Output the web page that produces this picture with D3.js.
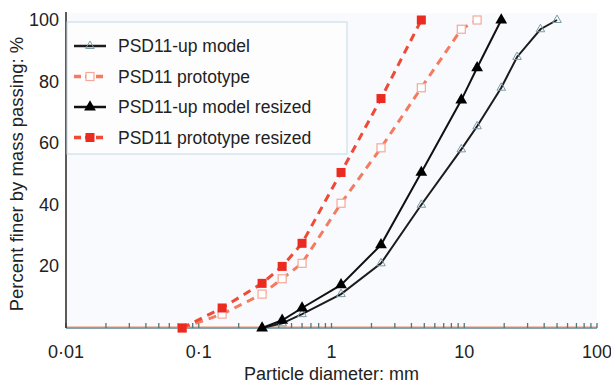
<!DOCTYPE html>
<html>
<head>
<meta charset="utf-8">
<script src="https://cdn.jsdelivr.net/npm/d3@7"></script>
<style>
  body { margin: 0; background: #fff; }
  text { font-family: "Liberation Sans", Arial, sans-serif; fill: #222; }
</style>
</head>
<body>
<div id="chart"></div>
<script>
// sieve sizes (mm) and percent passing for each curve
const modelSize = [0.3, 0.425, 0.6, 1.18, 2.36, 4.75, 9.5, 12.5, 19, 25, 37.5, 50];
const modelPass = [0, 1.5, 4.5, 11, 21, 40, 58, 65.5, 78, 88, 97, 100];

const protoSize = [0.075, 0.15, 0.3, 0.425, 0.6, 1.18, 2.36, 4.75, 9.5, 12.5];
const protoPass = [0, 4.5, 11, 16, 21, 40.5, 58.5, 78, 97, 100];

const modelResSize = [0.3, 0.425, 0.6, 1.18, 2.36, 4.75, 9.5, 12.5, 19];
const modelResPass = [0, 2.5, 6.5, 14, 27, 50.5, 74, 84.5, 100];

const protoResSize = [0.075, 0.15, 0.3, 0.425, 0.6, 1.18, 2.36, 4.75];
const protoResPass = [0, 6.5, 14.5, 20, 27.5, 50.5, 74.5, 100];

const xTicks = [0.01, 0.1, 1, 10, 100];
const xTickLabels = ['0·01', '0·1', '1', '10', '100'];
const yTicks = [20, 40, 60, 80, 100];

const seriesNames = ['PSD11-up model', 'PSD11 prototype', 'PSD11-up model resized', 'PSD11 prototype resized'];

const width = 611, height = 385;
const margin = { left: 66, right: 14, top: 20, bottom: 57 };

const svg = d3.select('#chart').append('svg')
  .attr('width', width)
  .attr('height', height);

const x = d3.scaleLog().domain([0.01, 100]).range([margin.left, width - margin.right]);
const y = d3.scaleLinear().domain([0, 100]).range([height - margin.bottom, margin.top]);

// plot background
svg.append('rect')
  .attr('x', x(0.01)).attr('y', y(100) - 7)
  .attr('width', x(100) - x(0.01)).attr('height', y(0) - y(100) + 7)
  .attr('fill', '#f8fafd');

// x axis with minor ticks pointing up
const allTicks = [];
for (let e = -2; e < 2; e++) {
  for (let m = 1; m <= 9; m++) allTicks.push(m * Math.pow(10, e));
}
allTicks.push(100);

svg.append('line')
  .attr('x1', x(0.01)).attr('x2', x(100))
  .attr('y1', y(0) - 1.5).attr('y2', y(0) - 1.5)
  .attr('stroke', '#f3c4b0').attr('stroke-width', 1);

svg.append('line')
  .attr('x1', x(0.01)).attr('x2', x(100))
  .attr('y1', y(0)).attr('y2', y(0))
  .attr('stroke', '#5d8591').attr('stroke-width', 1.6);

svg.selectAll('.xtick').data(allTicks).enter().append('line')
  .attr('x1', d => x(d)).attr('x2', d => x(d))
  .attr('y1', y(0)).attr('y2', y(0) - 5)
  .attr('stroke', '#4f7783').attr('stroke-width', 1.3);

svg.selectAll('.xlab').data(xTicks).enter().append('text')
  .attr('x', d => x(d)).attr('y', y(0) + 30)
  .attr('text-anchor', 'middle')
  .style('font-size', '18px')
  .text((d, i) => xTickLabels[i]);

// y axis
svg.append('line')
  .attr('x1', x(0.01)).attr('x2', x(0.01))
  .attr('y1', y(100) - 8).attr('y2', y(0))
  .attr('stroke', '#333').attr('stroke-width', 1.6);

svg.selectAll('.ylab').data(yTicks).enter().append('text')
  .attr('x', margin.left - 7).attr('y', d => y(d) + 6)
  .attr('text-anchor', 'end')
  .style('font-size', '18px')
  .text(d => d);

// axis titles
svg.append('text')
  .attr('x', (x(0.01) + x(100)) / 2).attr('y', 380)
  .attr('text-anchor', 'middle')
  .style('font-size', '18px')
  .text('Particle diameter: mm');

svg.append('text')
  .attr('transform', `translate(23,${(y(0) + y(100)) / 2}) rotate(-90)`)
  .attr('text-anchor', 'middle')
  .style('font-size', '18.5px')
  .text('Percent finer by mass passing: %');

// legend box
svg.append('rect')
  .attr('x', x(0.01) + 1).attr('y', 22)
  .attr('width', 280).attr('height', 132)
  .attr('fill', '#fdfdfe')
  .attr('stroke', '#c3dae4').attr('stroke-width', 1);

const line = d3.line().x(d => x(d[0])).y(d => y(d[1]));
const zip = (a, b) => a.map((v, i) => [v, b[i]]);

const styles = [
  { data: zip(modelSize, modelPass), color: '#1c1c1c', dash: null, width: 2, marker: 'triOpen' },
  { data: zip(protoSize, protoPass), color: '#f47a60', dash: '8,6', width: 3, marker: 'sqOpen' },
  { data: zip(modelResSize, modelResPass), color: '#111', dash: null, width: 2, marker: 'triFill' },
  { data: zip(protoResSize, protoResPass), color: '#ef4a36', dash: '8,6', width: 3, marker: 'sqFill' }
];

const tri = d3.symbol().type(d3.symbolTriangle);

function drawMarker(g, kind, px, py) {
  if (kind === 'triOpen') {
    g.append('path').attr('d', tri.size(32)())
      .attr('transform', `translate(${px},${py})`)
      .attr('fill', 'none').attr('stroke', '#7d9aa6').attr('stroke-width', 1);
  } else if (kind === 'triFill') {
    g.append('path').attr('d', tri.size(60)())
      .attr('transform', `translate(${px},${py})`)
      .attr('fill', '#000');
  } else if (kind === 'sqOpen') {
    g.append('rect').attr('x', px - 4).attr('y', py - 4)
      .attr('width', 8).attr('height', 8)
      .attr('fill', '#fff').attr('stroke', '#f6a898').attr('stroke-width', 1.2);
  } else {
    g.append('rect').attr('x', px - 4.5).attr('y', py - 4.5)
      .attr('width', 9).attr('height', 9)
      .attr('fill', '#ec2b20');
  }
}

// curves
styles.forEach(s => {
  const g = svg.append('g');
  g.append('path')
    .attr('d', line(s.data))
    .attr('fill', 'none')
    .attr('stroke', s.color)
    .attr('stroke-width', s.width)
    .attr('stroke-dasharray', s.dash);
  s.data.forEach(d => drawMarker(g, s.marker, x(d[0]), y(d[1])));
});

// legend entries
styles.forEach((s, i) => {
  const ly = 46 + i * 30.5;
  const g = svg.append('g');
  g.append('line')
    .attr('x1', 74).attr('x2', 106)
    .attr('y1', ly).attr('y2', ly)
    .attr('stroke', s.color)
    .attr('stroke-width', s.width + 0.5)
    .attr('stroke-dasharray', s.dash ? '7,4' : null);
  drawMarker(g, s.marker, 90, ly);
  g.append('text')
    .attr('x', 118).attr('y', ly + 6)
    .style('font-size', '17.5px')
    .text(seriesNames[i]);
});
</script>
</body>
</html>
